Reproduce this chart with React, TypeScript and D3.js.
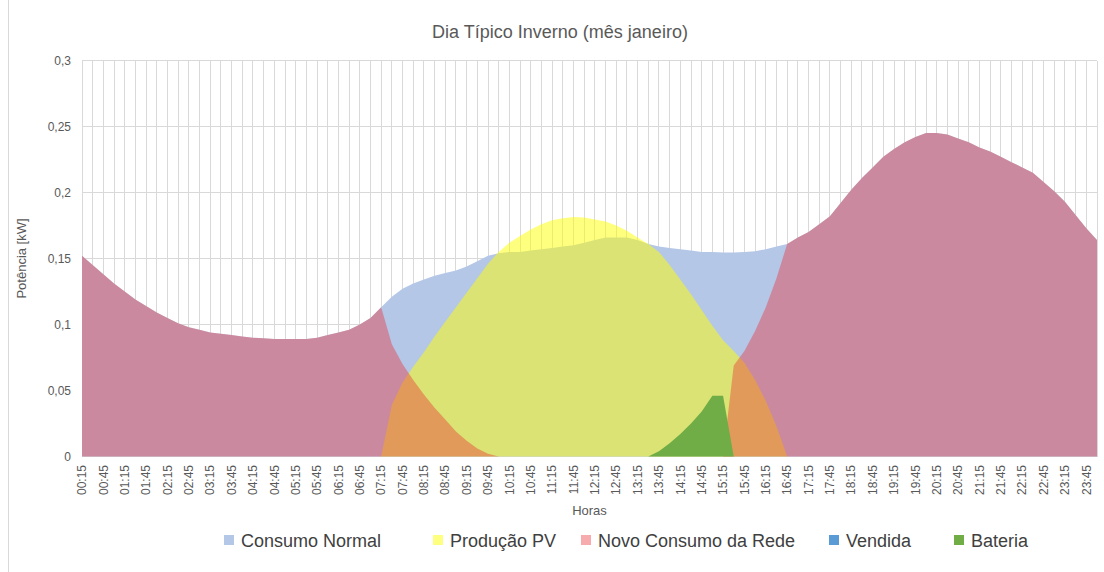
import React from "react";
import * as d3 from "d3";

// ---------- DATA ----------
const horas: string[] = [
  "00:15","00:30","00:45","01:00","01:15","01:30","01:45","02:00","02:15","02:30","02:45","03:00",
  "03:15","03:30","03:45","04:00","04:15","04:30","04:45","05:00","05:15","05:30","05:45","06:00",
  "06:15","06:30","06:45","07:00","07:15","07:30","07:45","08:00","08:15","08:30","08:45","09:00",
  "09:15","09:30","09:45","10:00","10:15","10:30","10:45","11:00","11:15","11:30","11:45","12:00",
  "12:15","12:30","12:45","13:00","13:15","13:30","13:45","14:00","14:15","14:30","14:45","15:00",
  "15:15","15:30","15:45","16:00","16:15","16:30","16:45","17:00","17:15","17:30","17:45","18:00",
  "18:15","18:30","18:45","19:00","19:15","19:30","19:45","20:00","20:15","20:30","20:45","21:00",
  "21:15","21:30","21:45","22:00","22:15","22:30","22:45","23:00","23:15","23:30","23:45","00:00"
];

const consumoNormal: number[] = [
  0.152,0.145,0.138,0.131,0.125,0.119,0.114,0.109,0.105,0.101,0.098,0.096,
  0.094,0.093,0.092,0.091,0.090,0.0895,0.089,0.089,0.089,0.089,0.090,0.092,
  0.094,0.096,0.100,0.105,0.113,0.121,0.127,0.131,0.134,0.137,0.139,0.141,
  0.144,0.148,0.152,0.154,0.155,0.155,0.156,0.157,0.158,0.159,0.160,0.162,
  0.164,0.166,0.166,0.166,0.164,0.161,0.159,0.158,0.157,0.156,0.155,0.155,
  0.1545,0.1545,0.155,0.1555,0.157,0.159,0.161,0.166,0.170,0.176,0.182,0.192,
  0.202,0.211,0.219,0.227,0.233,0.238,0.242,0.245,0.245,0.244,0.241,0.238,
  0.234,0.231,0.227,0.223,0.219,0.215,0.208,0.201,0.193,0.183,0.173,0.164
];

const producaoPV: number[] = [
  0,0,0,0,0,0,0,0,0,0,0,0,
  0,0,0,0,0,0,0,0,0,0,0,0,
  0,0,0,0,0,0.039,0.056,0.068,0.079,0.091,0.102,0.113,
  0.124,0.135,0.146,0.155,0.162,0.167,0.172,0.176,0.179,0.1805,0.1815,0.181,
  0.1795,0.178,0.175,0.171,0.166,0.161,0.155,0.145,0.134,0.123,0.111,0.099,
  0.088,0.080,0.071,0.058,0.042,0.023,0,0,0,0,0,0,
  0,0,0,0,0,0,0,0,0,0,0,0,
  0,0,0,0,0,0,0,0,0,0,0,0
];

const novoConsumoRede: number[] = [
  0.152,0.145,0.138,0.131,0.125,0.119,0.114,0.109,0.105,0.101,0.098,0.096,
  0.094,0.093,0.092,0.091,0.090,0.0895,0.089,0.089,0.089,0.089,0.090,0.092,
  0.094,0.096,0.100,0.105,0.113,0.085,0.070,0.058,0.047,0.037,0.028,0.019,
  0.012,0.006,0.002,0,0,0,0,0,0,0,0,0,
  0,0,0,0,0,0,0,0,0,0,0,0,
  0,0.069,0.080,0.095,0.113,0.135,0.161,0.166,0.170,0.176,0.182,0.192,
  0.202,0.211,0.219,0.227,0.233,0.238,0.242,0.245,0.245,0.244,0.241,0.238,
  0.234,0.231,0.227,0.223,0.219,0.215,0.208,0.201,0.193,0.183,0.173,0.164
];

const vendida: number[] = [
  0,0,0,0,0,0,0,0,0,0,0,0,
  0,0,0,0,0,0,0,0,0,0,0,0,
  0,0,0,0,0,0,0,0,0,0,0,0,
  0,0,0,0,0,0,0,0,0,0,0,0,
  0,0,0,0,0,0,0,0,0,0,0,0,
  0,0,0,0,0,0,0,0,0,0,0,0,
  0,0,0,0,0,0,0,0,0,0,0,0,
  0,0,0,0,0,0,0,0,0,0,0,0
];

const bateria: number[] = [
  0,0,0,0,0,0,0,0,0,0,0,0,
  0,0,0,0,0,0,0,0,0,0,0,0,
  0,0,0,0,0,0,0,0,0,0,0,0,
  0,0,0,0,0,0,0,0,0,0,0,0,
  0,0,0,0,0,0,0.004,0.010,0.017,0.025,0.034,0.046,
  0.046,0,0,0,0,0,0,0,0,0,0,0,
  0,0,0,0,0,0,0,0,0,0,0,0,
  0,0,0,0,0,0,0,0,0,0,0,0
];

const yTicks: number[] = [0, 0.05, 0.1, 0.15, 0.2, 0.25, 0.3];
const yTickLabels: string[] = ["0", "0,05", "0,1", "0,15", "0,2", "0,25", "0,3"];

const seriesNames: string[] = ["Consumo Normal", "Produção PV", "Novo Consumo da Rede", "Vendida", "Bateria"];
const seriesColors: string[] = ["#B4C7E7", "#FFFF00", "rgb(235,46,53)", "#5B9BD5", "#70AD47"];
const seriesOpacity: number[] = [1, 0.5, 0.4, 1, 1];
const seriesData: number[][] = [consumoNormal, producaoPV, novoConsumoRede, vendida, bateria];

const title = "Dia Típico Inverno (mês janeiro)";
const yTitle = "Potência [kW]";
const xTitle = "Horas";

// ---------- LAYOUT ----------
const W = 1104, H = 572;
const plotL = 82, plotR = 1097, plotT = 60.5, plotB = 456.5;
const FONT = "'Liberation Sans', Arial, sans-serif";
const legendTextX = [241, 450, 598, 846, 971];

export default function App() {
  const x = d3.scalePoint<string>().domain(horas).range([plotL, plotR]);
  const y = d3.scaleLinear().domain([0, 0.3]).range([plotB, plotT]);

  const area = (vals: number[]) =>
    d3.area<number>()
      .x((_, i) => x(horas[i]) as number)
      .y0(y(0))
      .y1((d) => y(d))
      .curve(d3.curveLinear)(vals) || "";

  return (
    <svg width={W} height={H} style={{ position: "absolute", left: 0, top: 0, background: "#fff" }} fontFamily={FONT}>
      <rect x={0} y={0} width={W} height={H} fill="#fff" />
      <line x1={8.5} x2={8.5} y1={0} y2={H} stroke="#D9D9D9" />
      {/* title */}
      <text x={560} y={38} textAnchor="middle" fontSize={18} fill="#595959">{title}</text>

      {/* gridlines */}
      <g shapeRendering="crispEdges">
        {horas.map((h, i) => (
          <line key={"v" + i} x1={x(h)} x2={x(h)} y1={plotT} y2={plotB} stroke="#D9D9D9" strokeWidth={1} />
        ))}
        {yTicks.map((t, i) => (
          <line key={"h" + i} x1={plotL} x2={plotR} y1={y(t)} y2={y(t)} stroke="#D9D9D9" strokeWidth={1} />
        ))}
      </g>

      {/* areas */}
      {seriesData.map((vals, k) => (
        <path key={"a" + k} d={area(vals)} fill={seriesColors[k]} fillOpacity={seriesOpacity[k]} stroke="none" />
      ))}

      {/* y tick labels */}
      {yTicks.map((t, i) => (
        <text key={"yl" + i} x={71} y={y(t)} dy="0.35em" textAnchor="end" fontSize={12} fill="#595959">{yTickLabels[i]}</text>
      ))}

      {/* x tick labels */}
      {horas.map((h, i) =>
        i % 2 === 0 ? (
          <text key={"xl" + i} transform={`translate(${(x(h) as number)},465) rotate(-90)`} dy="0.35em" textAnchor="end" fontSize={12} fill="#595959">{h}</text>
        ) : null
      )}

      {/* axis titles */}
      <text transform={`translate(26,${(plotT + plotB) / 2}) rotate(-90)`} textAnchor="middle" fontSize={13} fill="#595959">{yTitle}</text>
      <text x={(plotL + plotR) / 2} y={515} textAnchor="middle" fontSize={13} fill="#595959">{xTitle}</text>

      {/* legend */}
      {seriesNames.map((n, k) => (
        <g key={"lg" + k}>
          <rect x={legendTextX[k] - 17} y={535} width={10} height={10} fill={seriesColors[k]} fillOpacity={seriesOpacity[k]} />
          <text x={legendTextX[k]} y={546.5} fontSize={18} fill="#404040">{n}</text>
        </g>
      ))}
    </svg>
  );
}
